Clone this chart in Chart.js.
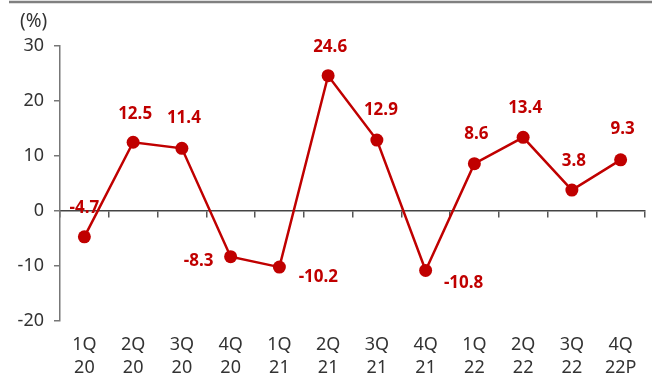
<!DOCTYPE html>
<html>
<head>
<meta charset="utf-8">
<script src="https://cdn.jsdelivr.net/npm/chart.js@4.4.1/dist/chart.umd.min.js"></script>
<style>
  html, body { margin: 0; padding: 0; background: #fff; }
  #wrap { width: 654px; height: 380px; position: relative; }
</style>
</head>
<body>
<div id="wrap"><canvas id="growth"></canvas></div>
<script>
// quarterly growth rate, %
const quarters = ["1Q", "2Q", "3Q", "4Q", "1Q", "2Q", "3Q", "4Q", "1Q", "2Q", "3Q", "4Q"];
const years = ["20", "20", "20", "20", "21", "21", "21", "21", "22", "22", "22", "22P"];
const growth = [-4.7, 12.5, 11.4, -8.3, -10.2, 24.6, 12.9, -10.8, 8.6, 13.4, 3.8, 9.3];
const yTicks = [-20, -10, 0, 10, 20, 30];

const labels = quarters.map((q, i) => [q, years[i]]);
const RED = "#c00000";
const FONT = "'Noto Sans', 'Open Sans', sans-serif";

// where each value label sits relative to its point
const labelOffsets = [
  [0, -29], [2, -28], [2, -30], [-32, 5], [39, 10], [2, -29],
  [4, -30], [38, 13], [2, -30], [2, -29], [2, -29], [2, -31],
];

const extras = {
  id: "extras",
  afterDraw(chart) {
    const ctx = chart.ctx;
    const meta = chart.getDatasetMeta(0);
    ctx.save();

    // rule across the top
    ctx.strokeStyle = "#808080";
    ctx.lineWidth = 2.5;
    ctx.beginPath();
    ctx.moveTo(9, 2);
    ctx.lineTo(652, 2);
    ctx.stroke();

    // unit caption
    ctx.fillStyle = "#333";
    ctx.font = "19px " + FONT;
    ctx.textAlign = "left";
    ctx.textBaseline = "middle";
    ctx.fillText("(%)", 20, 22);

    // value labels
    ctx.fillStyle = RED;
    ctx.font = "bold 17px " + FONT;
    ctx.textAlign = "center";
    meta.data.forEach((pt, i) => {
      const [dx, dy] = labelOffsets[i];
      ctx.fillText(growth[i].toFixed(1), pt.x + dx, pt.y + dy);
    });
    ctx.restore();
  },
};

new Chart(document.getElementById("growth"), {
  type: "line",
  data: {
    labels: labels,
    datasets: [
      {
        data: growth,
        xAxisID: "x",
        borderColor: RED,
        backgroundColor: RED,
        borderWidth: 2.5,
        pointRadius: 6.5,
        pointHoverRadius: 6.5,
        pointBorderWidth: 0,
        tension: 0,
      },
    ],
  },
  options: {
    responsive: true,
    maintainAspectRatio: false,
    animation: false,
    layout: {
      padding: { top: 46, right: 9, left: 0, bottom: 0 },
    },
    scales: {
      x: {
        type: "category",
        position: "bottom",
        offset: true,
        afterFit(axis) {
          axis.height = 59;
        },
        grid: { display: false, drawTicks: false },
        border: { display: false },
        ticks: {
          color: "#333",
          padding: 13,
          maxRotation: 0,
          font: { family: FONT, size: 18, lineHeight: 1.25 },
        },
      },
      xZero: {
        type: "category",
        labels: labels,
        position: { y: 0 },
        offset: true,
        grid: {
          offset: true,
          drawOnChartArea: false,
          tickLength: 6,
          color: "#555",
          lineWidth: 1.5,
        },
        border: { color: "#444", width: 1.5 },
        ticks: { display: false },
      },
      y: {
        min: -20,
        max: 30,
        afterBuildTicks(axis) {
          axis.ticks = yTicks.map((v) => ({ value: v }));
        },
        afterFit(axis) {
          axis.width = 60;
        },
        grid: {
          drawOnChartArea: false,
          tickLength: 6,
          color: "#777",
          lineWidth: 1.5,
        },
        border: { color: "#777", width: 1.5 },
        ticks: {
          color: "#333",
          padding: 10,
          font: { family: FONT, size: 18 },
        },
      },
    },
    plugins: {
      legend: { display: false },
      tooltip: { enabled: false },
    },
  },
  plugins: [extras],
});
</script>
</body>
</html>
